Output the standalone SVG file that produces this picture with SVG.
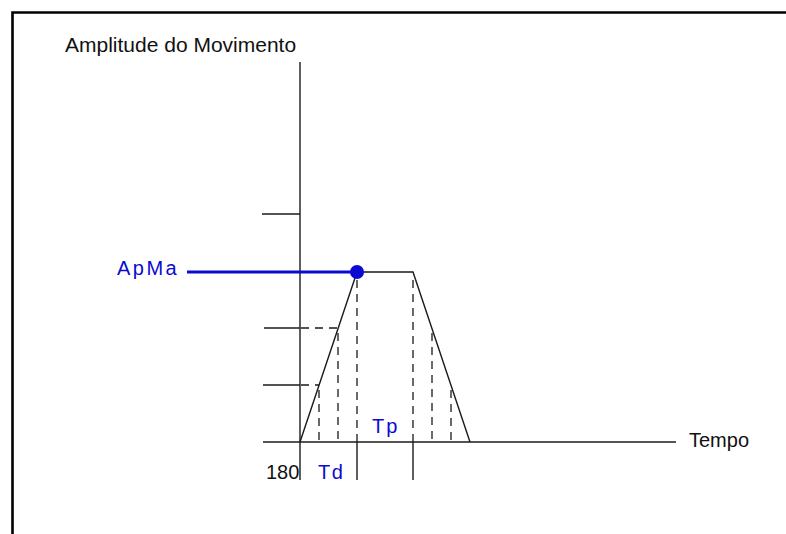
<svg xmlns="http://www.w3.org/2000/svg" width="786" height="534" viewBox="0 0 786 534">
<style>
.ln{stroke:#1a1a1a;stroke-width:1.4;fill:none}
.ds{stroke:#1a1a1a;stroke-width:1.3;fill:none;stroke-dasharray:8 6}
.t{font-family:"Liberation Sans",Arial,sans-serif;font-size:20px;fill:#111}
.b{font-family:"Liberation Sans",Arial,sans-serif;font-size:20px;fill:#0a0ad0}
</style>
<rect width="786" height="534" fill="#fff"/>
<g id="frame">
<path d="M12.5,534 V12.5 H786" stroke="#000" stroke-width="2.6" fill="none"/>
</g>
<g id="axes">
<line class="ln" x1="300" y1="62" x2="300" y2="480"/>
<line class="ln" x1="263" y1="442" x2="676" y2="442"/>
<line class="ln" x1="262" y1="214" x2="300" y2="214"/>
<line class="ln" x1="264" y1="328" x2="300" y2="328"/>
<line class="ln" x1="263" y1="385" x2="300" y2="385"/>
<line class="ln" x1="357" y1="442" x2="357" y2="480"/>
<line class="ln" x1="413" y1="442" x2="413" y2="480"/>
</g>
<g id="curve">
<polyline class="ln" points="300,442 357,272 413,272 470,442"/>
</g>
<g id="connectors">
<line class="ds" x1="301" y1="328" x2="337" y2="328"/>
<line class="ds" x1="301" y1="385" x2="319" y2="385"/>
<line class="ds" x1="319" y1="390" x2="319" y2="442"/>
<line class="ds" x1="338" y1="333" x2="338" y2="442"/>
<line class="ds" x1="357" y1="280" x2="357" y2="442"/>
<line class="ds" x1="413" y1="280" x2="413" y2="442"/>
<line class="ds" x1="432" y1="333" x2="432" y2="442"/>
<line class="ds" x1="451" y1="390" x2="451" y2="442"/>
</g>
<g id="apma">
<line x1="187" y1="272" x2="357" y2="272" stroke="#0a0ad0" stroke-width="3"/>
<circle cx="357" cy="272" r="7" fill="#0a0ad0"/>
<text class="b" x="117" y="275" letter-spacing="2.5">ApMa</text>
</g>
<g id="labels">
<text class="t" x="65" y="52" font-size="21" style="font-size:21px">Amplitude do Movimento</text>
<text class="t" x="689" y="447">Tempo</text>
<text class="t" x="266" y="479">180</text>
<text class="b" x="318" y="479" letter-spacing="1.5">Td</text>
<text class="b" x="372" y="433" letter-spacing="2">Tp</text>
</g>
</svg>
